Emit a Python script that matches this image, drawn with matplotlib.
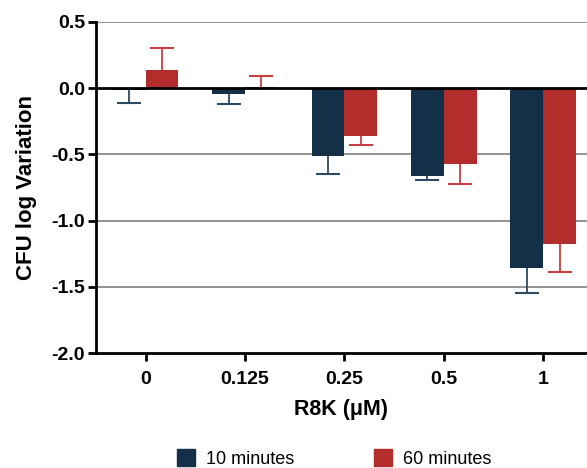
import numpy as np
import matplotlib.pyplot as plt
from matplotlib.patches import Patch

plt.rcParams['font.family'] = ['Liberation Sans', 'DejaVu Sans']

concentrations = ['0', '0.125', '0.25', '0.5', '1']
min10_mean = [-0.01, -0.045, -0.51, -0.665, -1.36]
min10_err = [0.10, 0.075, 0.14, 0.025, 0.185]
min60_mean = [0.14, 0.01, -0.36, -0.575, -1.175]
min60_err = [0.16, 0.08, 0.07, 0.145, 0.215]

col10 = '#143049'
col60 = '#b22d2b'


def draw_group(ax, xs, means, errs, color, ecolor):
    ax.bar(xs, means, w, color=color, zorder=3)
    # error bar only in the direction of the bar, cap only at the tip
    tips = [m - e if m < 0 else m + e for m, e in zip(means, errs)]
    ax.vlines(xs, means, tips, color=ecolor, lw=1.3, zorder=2)
    ax.plot(xs, tips, ls='none', marker='_', ms=17, mew=1.5, color=ecolor, zorder=2)


fig = plt.figure(figsize=(5.87, 4.68), dpi=100)
ax = fig.add_axes([96 / 587, 1 - 353 / 468, 1 - 96 / 587, (353 - 22) / 468])

x = np.arange(len(concentrations))
w = 0.33
draw_group(ax, x - w / 2, min10_mean, min10_err, col10, '#2e4a63')
draw_group(ax, x + w / 2, min60_mean, min60_err, col60, '#c94040')

for yv in [0.5, -0.5, -1.0, -1.5]:
    ax.axhline(yv, color='#808080', lw=1.2, zorder=1)
ax.axhline(0, color='black', lw=2, zorder=4)

ax.set_ylim(-2.0, 0.5)
ax.set_xlim(-0.5, 4.44)
ax.set_yticks([0.5, 0.0, -0.5, -1.0, -1.5, -2.0])
ax.set_yticklabels(['0.5', '0.0', '-0.5', '-1.0', '-1.5', '-2.0'], fontweight='bold')
ax.set_xticks(x)
ax.set_xticklabels(concentrations, fontweight='bold')
ax.tick_params(axis='both', labelsize=14, width=2, length=6, direction='out')
ax.tick_params(axis='x', pad=7)
ax.tick_params(axis='y', pad=2)

for s in ['top', 'right']:
    ax.spines[s].set_visible(False)
ax.spines['left'].set_linewidth(2)
ax.spines['bottom'].set_linewidth(2)

ax.set_ylabel('CFU log Variation', fontsize=16, fontweight='bold', labelpad=10)
ax.set_xlabel('R8K (\u03bcM)', fontsize=15.5, fontweight='bold', labelpad=8)

handles = [Patch(color=col10, label='10 minutes'), Patch(color=col60, label='60 minutes')]
fig.legend(handles=handles, loc='lower center', bbox_to_anchor=(334 / 587, -0.034), ncol=2,
           frameon=False, fontsize=13, columnspacing=4.4, handlelength=1.0, handleheight=1.0,
           handletextpad=0.6)

fig.savefig('out.png', dpi=100)
